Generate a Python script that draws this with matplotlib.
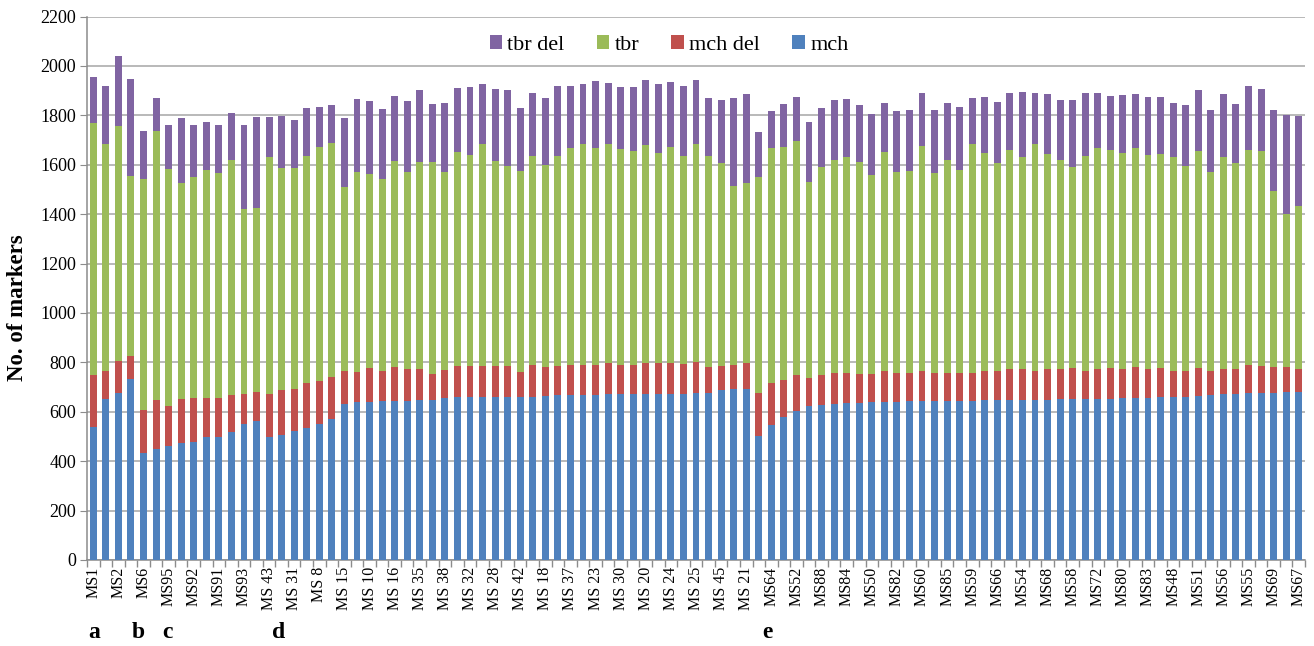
import matplotlib
matplotlib.use("Agg")
import matplotlib.pyplot as plt
from matplotlib.patches import Patch
from matplotlib.transforms import blended_transform_factory
import numpy as np

plt.rcParams['font.family'] = ['Liberation Serif', 'DejaVu Serif']

# Labels shown under every other bar (97 bars in total)
shown_labels = ["MS1", "MS2", "MS6", "MS95", "MS92", "MS91", "MS93", "MS 43", "MS 31",
                "MS 8", "MS 15", "MS 10", "MS 16", "MS 35", "MS 38", "MS 32", "MS 28",
                "MS 42", "MS 18", "MS 37", "MS 23", "MS 30", "MS 20", "MS 24", "MS 25",
                "MS 45", "MS 21", "MS64", "MS52", "MS88", "MS84", "MS50", "MS82", "MS60",
                "MS85", "MS59", "MS66", "MS54", "MS68", "MS58", "MS72", "MS80", "MS83",
                "MS48", "MS51", "MS56", "MS55", "MS69", "MS67"]

mch = [538, 651, 677, 732, 435, 450, 462, 474, 478, 497, 499, 519, 550, 562, 497, 505,
       522, 534, 549, 570, 632, 639, 639, 642, 643, 645, 646, 646, 655, 658, 658, 659,
       659, 659, 659, 661, 665, 668, 668, 668, 669, 670, 670, 670, 672, 672, 672, 673,
       676, 678, 689, 693, 693, 501, 545, 580, 604, 623, 628, 632, 635, 636, 638, 639,
       639, 642, 643, 643, 643, 643, 645, 646, 647, 646, 647, 647, 647, 651, 651, 653,
       653, 653, 655, 655, 655, 658, 661, 661, 664, 668, 670, 672, 674, 676, 676, 680, 682]

mch_del = [209, 114, 130, 95, 174, 196, 160, 176, 176, 160, 155, 147, 123, 119, 173, 183,
           171, 184, 174, 172, 132, 120, 137, 122, 137, 127, 126, 105, 113, 126, 126, 125,
           127, 125, 100, 127, 116, 116, 120, 123, 122, 126, 118, 118, 125, 124, 124, 119,
           125, 102, 95, 97, 104, 176, 170, 147, 143, 112, 122, 123, 120, 115, 113, 126,
           116, 113, 121, 112, 114, 115, 113, 120, 117, 126, 125, 119, 125, 121, 125, 112,
           119, 123, 117, 125, 117, 118, 105, 105, 112, 96, 104, 100, 114, 108, 104, 101, 92]

tbr = [1020, 919, 951, 728, 932, 1092, 960, 878, 896, 921, 911, 953, 747, 743, 961, 900,
       893, 917, 949, 946, 747, 810, 786, 778, 834, 798, 840, 860, 801, 867, 855, 901,
       828, 811, 815, 849, 816, 853, 880, 894, 877, 888, 876, 867, 883, 853, 874, 843,
       883, 855, 821, 724, 729, 874, 953, 943, 949, 795, 841, 865, 875, 860, 807, 885,
       815, 819, 912, 810, 863, 822, 927, 881, 842, 886, 860, 919, 871, 849, 813, 870,
       894, 882, 874, 886, 867, 866, 864, 829, 879, 806, 858, 837, 873, 871, 714, 619, 658]

tbr_del = [187, 236, 282, 392, 197, 132, 179, 261, 211, 195, 196, 189, 341, 368, 162, 208,
           195, 193, 162, 154, 280, 297, 295, 285, 264, 287, 289, 235, 280, 260, 276, 241,
           291, 308, 254, 252, 275, 282, 252, 241, 271, 247, 252, 260, 261, 278, 266, 285,
           258, 235, 257, 356, 362, 180, 151, 176, 180, 244, 239, 244, 235, 232, 246, 200,
           248, 249, 213, 257, 231, 255, 185, 229, 247, 231, 261, 207, 245, 240, 272, 257,
           224, 222, 238, 221, 234, 234, 219, 247, 248, 253, 253, 237, 258, 252, 328, 403, 364]

panel_letters = ["a", "b", "c", "d", "e"]
panel_positions = [0.1, 3.6, 5.9, 14.8, 53.7]

colors = {"mch": "#4F81BD", "mch del": "#C0504D", "tbr": "#9BBB59", "tbr del": "#8064A2"}

n = len(mch)
x = np.arange(n)
fig = plt.figure(figsize=(13.14, 6.46), dpi=100)
ax = fig.add_axes([87/1314, 1 - 560/646, (1305 - 87)/1314, (560 - 16.5)/646])

w = 0.55
b1 = np.array(mch)
b2 = b1 + np.array(mch_del)
b3 = b2 + np.array(tbr)
ax.bar(x, mch, w, color=colors["mch"], zorder=3)
ax.bar(x, mch_del, w, bottom=b1, color=colors["mch del"], zorder=3)
ax.bar(x, tbr, w, bottom=b2, color=colors["tbr"], zorder=3)
ax.bar(x, tbr_del, w, bottom=b3, color=colors["tbr del"], zorder=3)

ax.set_xlim(-0.5, n - 0.5)
ax.set_ylim(0, 2200)
ax.set_yticks(np.arange(0, 2201, 200))
ax.yaxis.grid(True, color="#a6a6a6", linewidth=1.1, zorder=0)
ax.set_axisbelow(True)
for s in ["top", "right"]:
    ax.spines[s].set_visible(False)
for s in ["left", "bottom"]:
    ax.spines[s].set_color("#8c8c8c")
    ax.spines[s].set_linewidth(1.1)
ax.tick_params(axis="y", direction="out", length=5, color="#8c8c8c", labelsize=13, pad=3)

# labels on every other bar, tick marks at category boundaries
ax.set_xticks(x[::2])
ax.set_xticklabels(shown_labels, rotation=90, fontsize=11.5)
ax.tick_params(axis="x", which="major", length=0, pad=5)
ax.set_xticks(np.arange(-0.5, n, 1.0), minor=True)
ax.tick_params(axis="x", which="minor", direction="out", length=5, color="#8c8c8c", width=1)

ax.set_ylabel("No. of markers", fontsize=16.5, fontweight="bold")
ax.yaxis.set_label_coords(-0.0487, 0.465)

handles = [Patch(facecolor=colors[k]) for k in ["tbr del", "tbr", "mch del", "mch"]]
leg = ax.legend(handles, ["tbr del", "tbr", "mch del", "mch"], ncol=4,
                loc="center", bbox_to_anchor=(669/1314, 1 - 45/646),
                bbox_transform=fig.transFigure, frameon=False, fontsize=16,
                handlelength=0.55, handleheight=0.55, handletextpad=0.25,
                columnspacing=1.45, borderpad=0.2)

trans = blended_transform_factory(ax.transData, fig.transFigure)
for lt, px in zip(panel_letters, panel_positions):
    fig.text(px, 1 - 633/646, lt, transform=trans, fontsize=17, fontweight="bold",
             ha="center", va="center")

fig.savefig("out.png", dpi=100, facecolor="white")
